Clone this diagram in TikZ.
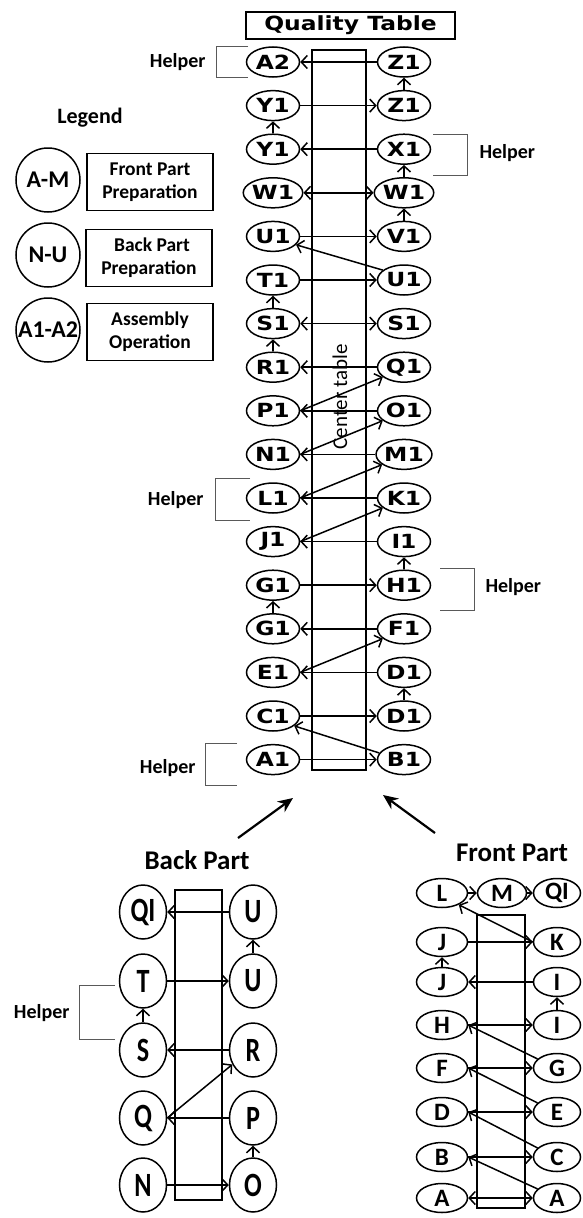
\documentclass[tikz,border=0pt]{standalone}
\usepackage{fontspec}
\setmainfont{Carlito}
\newfontfamily\verd[FakeStretch=1.2]{DejaVu Sans}
\newfontfamily\tallfont[FakeStretch=0.77]{Carlito}
\usetikzlibrary{arrows.meta,shapes.geometric}

\begin{document}
\begin{tikzpicture}[x=1pt,y=-1pt,>={Straight Barb[length=6pt,width=13pt]},
  op/.style={ellipse,draw,line width=1.5pt,minimum width=53pt,minimum height=30pt,inner sep=0pt,font=\verd\bfseries\fontsize{19.5}{19.5}\selectfont},
  bop/.style={ellipse,draw,line width=1.5pt,minimum width=47pt,minimum height=54pt,inner sep=0pt,font=\tallfont\bfseries\fontsize{34}{34}\selectfont},
  fop/.style={ellipse,draw,line width=1.5pt,minimum width=51pt,minimum height=29pt,inner sep=0pt,font=\bfseries\fontsize{25}{25}\selectfont},
  tbl/.style={line width=1.5pt},
  flow/.style={line width=1.5pt,->},
  helper/.style={draw=black!65,line width=1pt},
  hlbl/.style={font=\bfseries\fontsize{20}{20}\selectfont},
  lgcirc/.style={circle,draw,line width=1.5pt,minimum size=64pt,inner sep=0pt,font=\bfseries\fontsize{24}{24}\selectfont},
  lgbox/.style={draw,line width=1.5pt,minimum width=126pt,minimum height=57pt,align=center,inner sep=2pt,font=\bfseries\fontsize{19.5}{23}\selectfont},
  bigarrow/.style={line width=2.2pt,-{Stealth[length=15pt,width=13pt]}}]
  \useasboundingbox (0,0) rectangle (583,1218);
  % quality table and center table
  \node[draw,line width=1.5pt,minimum width=209pt,minimum height=27pt,inner sep=0pt,font=\verd\bfseries\fontsize{19.5}{19.5}\selectfont] (qt) at (350.5,25.5) {Quality Table};
  \draw[tbl] (312,50) rectangle (366,770);
  % assembly line: left and right stations
  \foreach \l/\r [count=\i from 0] in {A2/Z1,Y1/Z1,Y1/X1,W1/W1,U1/V1,T1/U1,S1/S1,R1/Q1,P1/O1,N1/M1,L1/K1,J1/I1,G1/H1,G1/F1,E1/D1,C1/D1,A1/B1}{
    \node[op] (l\i) at (273,{62+43.6*\i}) {\l};
    \node[op] (r\i) at (404,{62+43.6*\i}) {\r};
  }
  % flow of the assembly line
  \draw[flow] (r0) -- (l0);
  \draw[flow] (r1) -- (r0);
  \draw[flow] (l1) -- (r1);
  \draw[flow] (l2) -- (l1);
  \draw[flow] (r2) -- (l2);
  \draw[flow] (r3) -- (r2);
  \draw[flow,<->] (l3) -- (r3);
  \draw[flow] (r4) -- (r3);
  \draw[flow] (l4) -- (r4);
  \draw[flow] (r5.155) -- (l4.-20);
  \draw[flow] (l5) -- (r5);
  \draw[flow] (l6) -- (l5);
  \draw[flow,<->] (l6) -- (r6);
  \draw[flow] (l7) -- (l6);
  \draw[flow] (r7) -- (l7);
  \draw[flow] (l8.east) -- (r7.205);
  \draw[flow] (r8) -- (l8);
  \draw[flow] (l9.east) -- (r8.205);
  \draw[flow] (r9) -- (l9);
  \draw[flow] (l10.east) -- (r9.205);
  \draw[flow] (r10) -- (l10);
  \draw[flow] (l11.east) -- (r10.205);
  \draw[flow] (r11) -- (l11);
  \draw[flow] (r12) -- (r11);
  \draw[flow] (l12) -- (r12);
  \draw[flow] (l13) -- (l12);
  \draw[flow] (r13) -- (l13);
  \draw[flow] (l14.east) -- (r13.205);
  \draw[flow] (r14) -- (l14);
  \draw[flow] (r15) -- (r14);
  \draw[flow] (l15) -- (r15);
  \draw[flow] (r16.165) -- (l15.-25);
  \draw[flow] (l16) -- (r16);
  \node[rotate=90,font=\fontsize{21}{21}\selectfont] (ct) at (340,397) {Center table};
  % helpers
  \draw[helper] (248,46) -- (216,46) -- (216,77) -- (248,77);
  \node[hlbl,anchor=east] (h1) at (209,62) {Helper};
  \draw[helper] (433,134) -- (467,134) -- (467,175) -- (433,175);
  \node[hlbl,anchor=west] (h2) at (476,153) {Helper};
  \draw[helper] (250,478) -- (215,478) -- (215,520) -- (250,520);
  \node[hlbl,anchor=east] (h3) at (207,500) {Helper};
  \draw[helper] (440,568) -- (474,568) -- (474,610) -- (440,610);
  \node[hlbl,anchor=west] (h4) at (482,587) {Helper};
  \draw[helper] (237,743) -- (205,743) -- (205,785) -- (237,785);
  \node[hlbl,anchor=east] (h5) at (199,768) {Helper};
  % legend
  \node[font=\bfseries\fontsize{22}{22}\selectfont] (lg) at (90,118) {Legend};
  \node[lgcirc] (lgfront) at (48,180) {A-M};
  \node[lgbox] (lgfrontbox) at (150,182) {Front Part\\Preparation};
  \node[lgcirc] (lgback) at (48,255) {N-U};
  \node[lgbox] (lgbackbox) at (149,258) {\hspace*{6pt}Back Part\\Preparation};
  \node[lgcirc] (lgasm) at (48,330) {A1-A2};
  \node[lgbox] (lgasmbox) at (150,332) {Assembly\\Operation};
  % parts going to the line
  \coordinate (bk) at (238,838);
  \coordinate (bktip) at (293,798);
  \coordinate (fr) at (435,833);
  \coordinate (frtip) at (383,795);
  \draw[bigarrow] (bk) -- (bktip);
  \draw[bigarrow] (fr) -- (frtip);
  % back part
  \node[font=\bfseries\fontsize{27}{27}\selectfont] (bhead) at (197,860) {Back Part};
  \draw[tbl] (175,890) rectangle (222,1200);
  \node[bop] (bQI) at (143,912) {QI};
  \node[bop] (bT) at (143,981) {T};
  \node[bop] (bS) at (143,1050) {S};
  \node[bop] (bQ) at (143,1118) {Q};
  \node[bop] (bN) at (143,1185) {N};
  \node[bop] (bU2) at (253,912) {U};
  \node[bop] (bU) at (253,981) {U};
  \node[bop] (bR) at (253,1050) {R};
  \node[bop] (bP) at (253,1118) {P};
  \node[bop] (bO) at (253,1185) {O};
  \draw[flow] (bN) -- (bO);
  \draw[flow] (bO) -- (bP);
  \draw[flow] (bP) -- (bQ);
  \draw[flow] (bQ.east) -- (bR.215);
  \draw[flow] (bR) -- (bS);
  \draw[flow] (bS) -- (bT);
  \draw[flow] (bT) -- (bU);
  \draw[flow] (bU) -- (bU2);
  \draw[flow] (bU2) -- (bQI);
  \draw[helper] (115,985) -- (79,985) -- (79,1039) -- (115,1039);
  \node[hlbl,anchor=east] (h6) at (73,1013) {Helper};
  % front part
  \node[font=\bfseries\fontsize{27}{27}\selectfont] (fhead) at (512,853) {Front Part};
  \draw[tbl] (477,915) rectangle (525,1208);
  \node[fop] (fL) at (442,893) {L};
  \node[fop,minimum width=49pt] (fM) at (502,893) {M};
  \node[fop,minimum width=47pt] (fQI) at (557,893) {QI};
  \foreach \n/\t/\y in {J2/J/942,J/J/982,H/H/1025,F/F/1068,D/D/1112,B/B/1157,A/A/1198}
    \node[fop] (f\n) at (442,\y) {\t};
  \foreach \n/\t/\y in {K/K/942,I2/I/982,I/I/1025,G/G/1068,E/E/1112,C/C/1157,A2/A/1198}
    \node[fop,minimum width=47pt] (f\n) at (557,\y) {\t};
  \draw[flow,<->] (fA) -- (fA2);
  \draw[flow] (fA2.155) -- (fB.east);
  \draw[flow] (fB) -- (fC);
  \draw[flow] (fC.155) -- (fD.east);
  \draw[flow] (fD) -- (fE);
  \draw[flow] (fE.155) -- (fF.east);
  \draw[flow] (fF) -- (fG);
  \draw[flow] (fG.155) -- (fH.east);
  \draw[flow] (fH) -- (fI);
  \draw[flow] (fI) -- (fI2);
  \draw[flow] (fI2) -- (fJ);
  \draw[flow] (fJ) -- (fJ2);
  \draw[flow] (fJ2) -- (fK);
  \draw[flow] (fK.west) -- (fL.-35);
  \draw[flow] (fL) -- (fM);
  \draw[flow] (fM) -- (fQI);
\end{tikzpicture}
\end{document}
